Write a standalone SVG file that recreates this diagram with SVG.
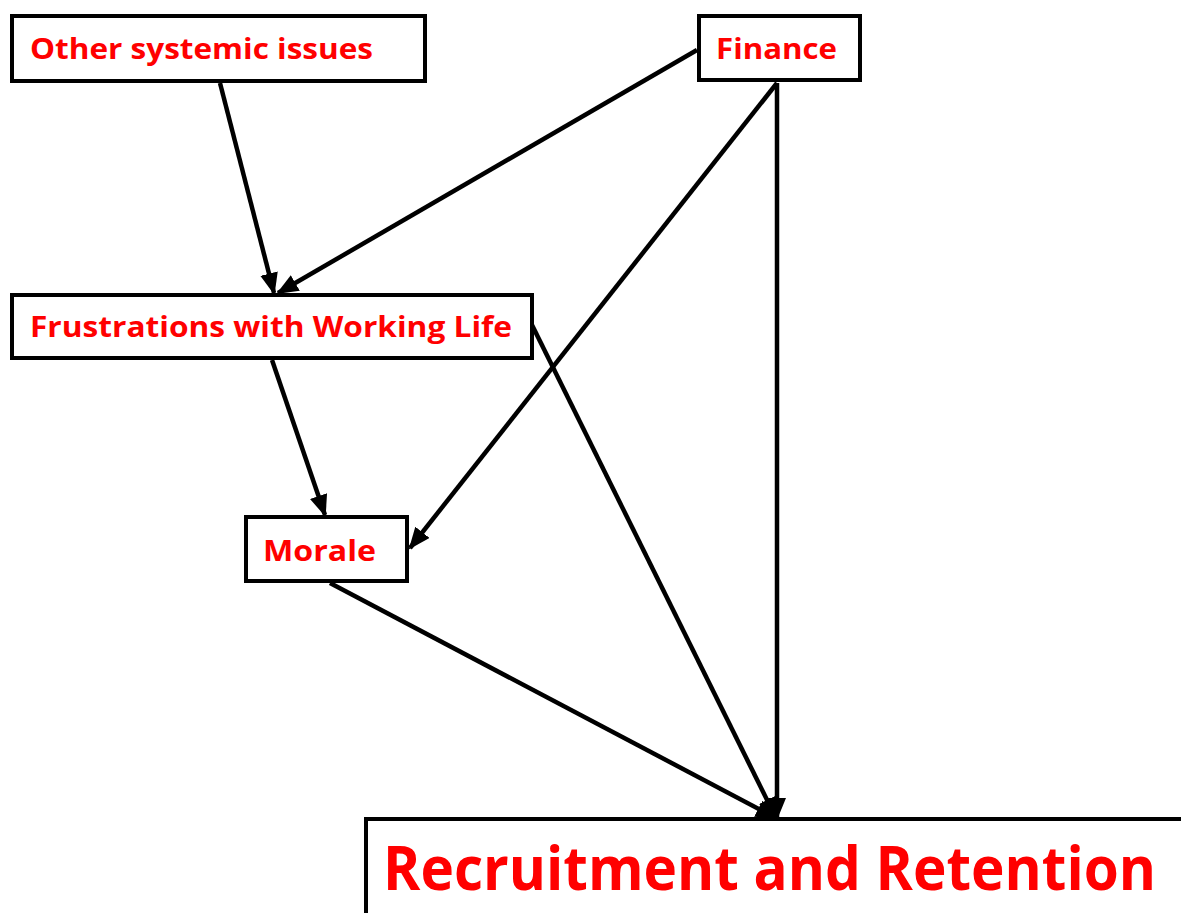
<svg xmlns="http://www.w3.org/2000/svg" width="1181" height="913" viewBox="0 0 1181 913">
<style>
.box{fill:#fff;stroke:#000;stroke-width:4}
.lbl{font-family:"Open Sans","Liberation Sans",Arial,sans-serif;font-weight:bold;fill:#ff0000;font-size:29px}
.big{font-size:60px}
.edge{stroke:#000;stroke-width:4.5;fill:none;marker-end:url(#ah)}
</style>
<defs>
<marker id="ah" markerUnits="userSpaceOnUse" viewBox="0 0 22 18" markerWidth="22" markerHeight="18" refX="20" refY="9" orient="auto">
<path d="M0,0 L22,9 L0,18 Z" fill="#000"/>
</marker>
</defs>
<rect width="1181" height="913" fill="#fff"/>
<g id="connectors">
<line class="edge" x1="220" y1="83" x2="274" y2="293"/>
<line class="edge" x1="697" y1="50" x2="278" y2="293"/>
<line class="edge" x1="777" y1="83" x2="410" y2="548"/>
<line class="edge" x1="777" y1="83" x2="777" y2="818"/>
<line class="edge" x1="532" y1="325" x2="776" y2="818"/>
<line class="edge" x1="272" y1="360" x2="325" y2="515"/>
<line class="edge" x1="330" y1="583" x2="776" y2="818"/>
</g>
<g id="other">
<rect class="box" x="12" y="16" width="413" height="65"/>
<text class="lbl" x="30" y="59" textLength="343" lengthAdjust="spacingAndGlyphs">Other systemic issues</text>
</g>
<g id="finance">
<rect class="box" x="699" y="16" width="161" height="64"/>
<text class="lbl" x="716" y="59" textLength="121" lengthAdjust="spacingAndGlyphs">Finance</text>
</g>
<g id="frustrations">
<rect class="box" x="12" y="295" width="520" height="63"/>
<text class="lbl" x="30" y="337" textLength="482" lengthAdjust="spacingAndGlyphs">Frustrations with Working Life</text>
</g>
<g id="morale">
<rect class="box" x="246" y="517" width="161" height="64"/>
<text class="lbl" x="263" y="561" textLength="113" lengthAdjust="spacingAndGlyphs">Morale</text>
</g>
<g id="recruitment">
<rect class="box" x="366" y="819" width="830" height="110"/>
<text class="lbl big" x="383" y="890" textLength="773" lengthAdjust="spacingAndGlyphs">Recruitment and Retention</text>
</g>
</svg>
